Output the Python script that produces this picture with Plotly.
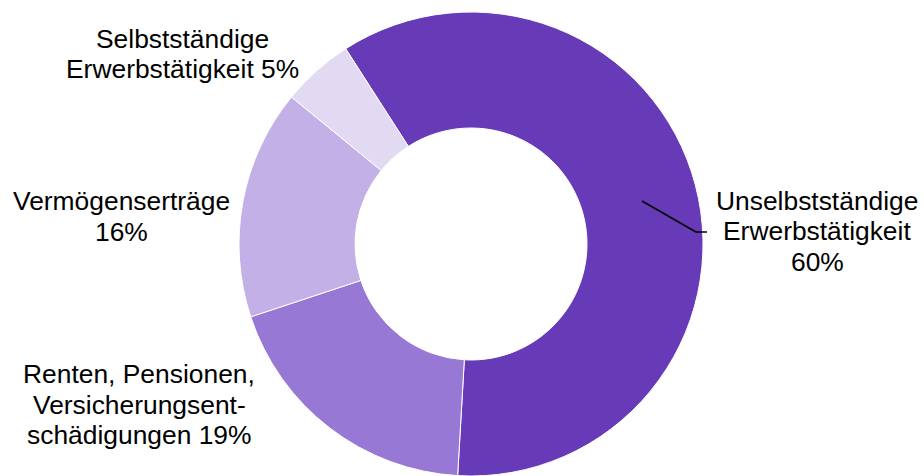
import plotly.graph_objects as go

# Data
labels = ["Unselbstständige Erwerbstätigkeit", "Renten, Pensionen, Versicherungsentschädigungen",
          "Vermögenserträge", "Selbstständige Erwerbstätigkeit"]
label_lines = [["Unselbstständige", "Erwerbstätigkeit", "{v}%"],
               ["Renten, Pensionen,", "Versicherungsent-", "schädigungen {v}%"],
               ["Vermögenserträge", "{v}%"],
               ["Selbstständige", "Erwerbstätigkeit {v}%"]]
values = [60, 19, 16, 5]
colors = ["#673AB7", "#9878D5", "#C3B0E6", "#E2DAF2"]

W, H = 924, 476
T = 12  # top margin
# label centre x and first-line cap-middle y (page px), line step
label_pos = [(817, 200.5), (139, 374.3), (121, 201), (182, 39)]
STEP = 30.5
FONT = dict(family="Liberation Sans, Arial, sans-serif", size=26.4, color="#000000")


def P(x, y):
    return x / W, 1 - (y - T) / (H - T)


fig = go.Figure(go.Pie(
    labels=labels, values=values, sort=False, direction="clockwise",
    rotation=-32.7, hole=0.5, textinfo="none", hoverinfo="label+percent",
    marker=dict(colors=colors, line=dict(color="white", width=1)),
    domain=dict(x=[(471 - 235) / W, (471 + 235) / W], y=[0, 1]), showlegend=False,
))

annotations = []
for lines, v, (px, py) in zip(label_lines, values, label_pos):
    for i, ln in enumerate(lines):
        x, y = P(px, py + i * STEP)
        annotations.append(dict(
            text=ln.format(v=v), x=x, y=y, xref="paper", yref="paper",
            xanchor="center", yanchor="middle", showarrow=False, align="center",
            font=FONT,
        ))

shapes = []
for (x0, y0), (x1, y1) in [((642, 201), (696, 232)), ((696, 232), (707, 232))]:
    a, b = P(x0, y0)
    c, d = P(x1, y1)
    shapes.append(dict(type="line", xref="paper", yref="paper", x0=a, y0=b, x1=c, y1=d,
                       line=dict(color="#000000", width=1.5)))

fig.update_layout(
    width=W, height=H, margin=dict(l=0, r=0, t=T, b=0),
    paper_bgcolor="white", plot_bgcolor="white",
    annotations=annotations, shapes=shapes,
)

fig.write_html("out.html", config={"displayModeBar": False},
               post_script="document.body.style.margin='0';")
